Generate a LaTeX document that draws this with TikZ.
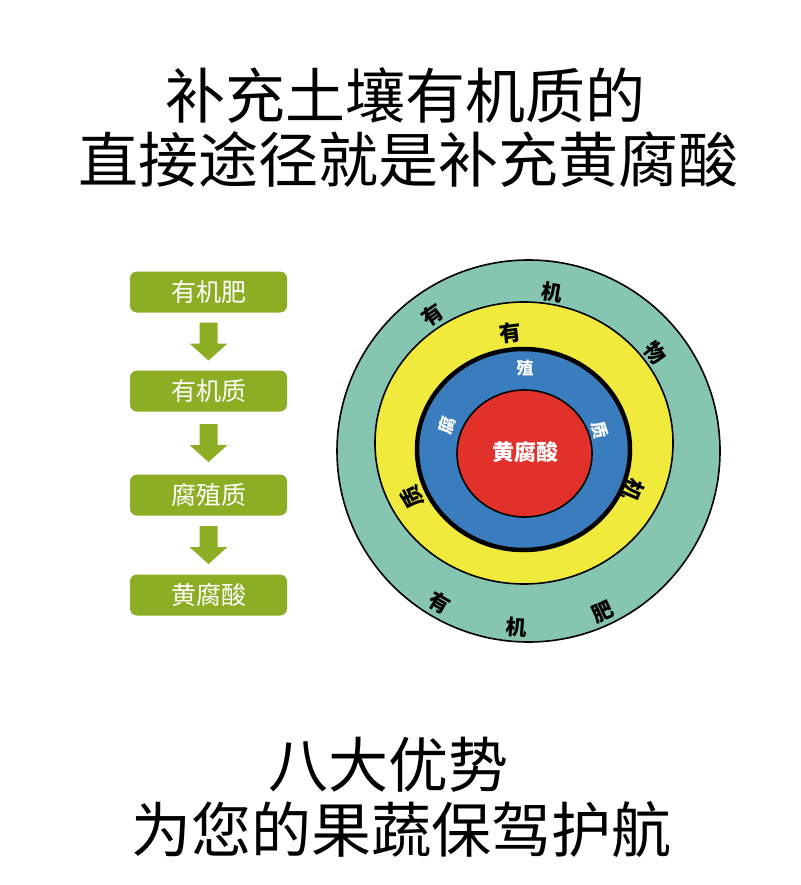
\documentclass[tikz,border=0pt]{standalone}
\usepackage{fontspec}
\setmainfont{Noto Sans CJK SC}
\usetikzlibrary{calc}
\definecolor{flowgreen}{RGB}{141,174,36}
\definecolor{ringteal}{RGB}{134,197,176}
\definecolor{ringyellow}{RGB}{240,234,60}
\definecolor{ringblue}{RGB}{58,125,190}
\definecolor{ringred}{RGB}{226,48,42}
\begin{document}
\begin{tikzpicture}[x=1pt,y=-1pt,
  titletext/.style={font=\fontsize{60}{60}\selectfont, inner sep=0, anchor=center},
  flowbox/.style={fill=flowgreen, rounded corners=7pt, minimum width=157pt, minimum height=41pt, text=white, font=\fontsize{25}{25}\selectfont, inner sep=0},
  outerlbl/.style={font=\fontsize{21}{21}\selectfont\bfseries, inner sep=0, text=black},
  yellowlbl/.style={font=\fontsize{22}{22}\selectfont\bfseries, inner sep=0, text=black},
  bluelbl/.style={font=\fontsize{17}{17}\selectfont\bfseries, inner sep=0, text=white},
  ringline/.style={draw=black, line width=1.6pt}
]
\useasboundingbox[fill=white] (0,0) rectangle (800,885);

% titles
\node[titletext] (t1) at (405,95) {补充土壤有机质的};
\node[titletext] (t2) at (408,160) {直接途径就是补充黄腐酸};
\node[titletext] (b1) at (388,765) {八大优势};
\node[titletext] (b2) at (401,830) {为您的果蔬保驾护航};

% flow boxes
\node[flowbox] (f1) at (208.5,292) {有机肥};
\node[flowbox] (f2) at (208.5,391) {有机质};
\node[flowbox] (f3) at (208.5,495) {腐殖质};
\node[flowbox] (f4) at (208.5,595) {黄腐酸};

\foreach \a/\b/\m in {f1/f2/m1, f2/f3/m2, f3/f4/m3}{
  \coordinate (\m) at ($(\a.south)!0.5!(\b.north)$);
  \fill[flowgreen] ($(\m)+(-9,-19)$) -- ($(\m)+(9,-19)$) -- ($(\m)+(9,2)$) -- ($(\m)+(19,2)$)
     -- ($(\m)+(0,19)$) -- ($(\m)+(-19,2)$) -- ($(\m)+(-9,2)$) -- cycle;
}

% rings
\filldraw[fill=ringteal, ringline] (528.5,451) ellipse [x radius=191.5pt, y radius=191pt];
\filldraw[fill=ringyellow, ringline] (524,443) ellipse [x radius=149pt, y radius=141pt];
\filldraw[fill=ringblue, draw=black, line width=4.5pt] (523.5,449.5) ellipse [x radius=106.5pt, y radius=100.5pt];
\filldraw[fill=ringred, ringline] (524.5,453.5) ellipse [x radius=67.5pt, y radius=63.5pt];

% outer ring labels
\node[outerlbl, rotate=35] (o1) at (433,315) {有};
\node[outerlbl, rotate=-9] (o2) at (552,292) {机};
\node[outerlbl, rotate=-52] (o3) at (655,353) {物};
\node[outerlbl, rotate=-30] (o4) at (440,603) {有};
\node[outerlbl, rotate=-4] (o5) at (517,627) {机};
\node[outerlbl, rotate=25] (o6) at (603,612) {肥};

% yellow ring labels
\node[yellowlbl, rotate=7] (y1) at (510,333) {有};
\node[yellowlbl, rotate=-113] (y2) at (633,490) {机};
\node[yellowlbl, rotate=116] (y3) at (412,497) {质};

% blue ring labels
\node[bluelbl, rotate=72] (u1) at (447,425) {腐};
\node[bluelbl] (u2) at (525,368) {殖};
\node[bluelbl, rotate=-76] (u3) at (600,430) {质};

% centre
\node[font=\fontsize{22}{22}\selectfont\bfseries, text=white, inner sep=0] (c) at (525,452) {黄腐酸};
\end{tikzpicture}
\end{document}
